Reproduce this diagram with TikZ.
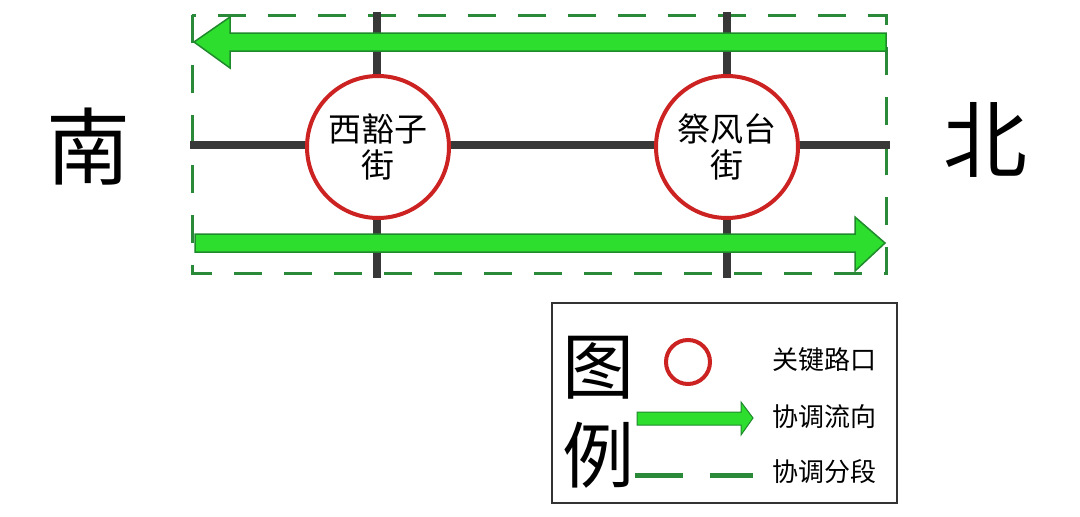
\documentclass[tikz,border=0pt]{standalone}
\usepackage{fontspec}
\newfontfamily\cjk{Noto Sans CJK SC}
\usetikzlibrary{positioning}
\definecolor{flowgreen}{HTML}{2EDE2E}
\definecolor{edgegreen}{HTML}{1F8A2C}
\definecolor{segmentgreen}{HTML}{2A8A3A}
\definecolor{roadgray}{HTML}{383838}
\definecolor{keyred}{HTML}{CC2222}
\definecolor{framegray}{HTML}{333333}
\tikzset{
	road/.style={draw=roadgray, line width=8pt},
	keynode/.style={circle, draw=keyred, line width=4pt, fill=white, minimum size=142pt, inner sep=0pt, align=center, font=\cjk\fontsize{33}{36}\selectfont},
	flow/.style={fill=flowgreen, draw=edgegreen, line width=1.5pt, line join=miter},
	segment/.style={draw=segmentgreen, line width=3pt, dash pattern=on 28pt off 22pt},
	bigchar/.style={inner sep=0pt, font=\cjk\fontsize{84}{84}\selectfont},
	legendchar/.style={inner sep=0pt, font=\cjk\fontsize{72}{72}\selectfont},
	legendtext/.style={inner sep=0pt, anchor=west, font=\cjk\fontsize{26}{26}\selectfont},
}
\begin{document}
\begin{tikzpicture}[x=1pt, y=-1pt]
	\useasboundingbox[fill=white] (0,0) rectangle (1080,517);
	% coordination segment
	\draw[segment] (192,15) rectangle (886,273);
	% roads
	\draw[road] (190,145) -- (890,145);
	\draw[road] (377,12) -- (377,278);
	\draw[road] (727,12) -- (727,278);
	% key intersections
	\node[keynode] (xhz) at (378,147) {西豁子\\街};
	\node[keynode] (jft) at (727,147) {祭风台\\街};
	% coordination flows
	\draw[flow] (194,42) -- (230,17) -- (230,33) -- (886,33) -- (886,51) -- (230,51) -- (230,68) -- cycle;
	\draw[flow] (885,243) -- (855,217) -- (855,234) -- (195,234) -- (195,252) -- (855,252) -- (855,271) -- cycle;
	% directions
	\node[bigchar] (south) at (88,147) {南};
	\node[bigchar] (north) at (985,140) {北};
	% legend
	\draw[framegray, line width=2.5pt] (552,303) rectangle (897,503);
	\node[legendchar] (tu) at (598,368) {图};
	\node[legendchar] (li) at (598,455) {例};
	\node[circle, draw=keyred, line width=4pt, minimum size=44pt, inner sep=0pt] (keymark) at (688,362) {};
	\draw[flow, line width=1pt] (753,418) -- (741,402) -- (741,412) -- (637,412) -- (637,425) -- (741,425) -- (741,435) -- cycle;
	\draw[draw=segmentgreen, line width=5pt] (635,475) -- (683,475);
	\draw[draw=segmentgreen, line width=5pt] (710,475) -- (753,475);
	\node[legendtext] (keytext) at (772,360) {关键路口};
	\node[legendtext] (flowtext) at (772,417) {协调流向};
	\node[legendtext] (segtext) at (772,472) {协调分段};
\end{tikzpicture}
\end{document}
